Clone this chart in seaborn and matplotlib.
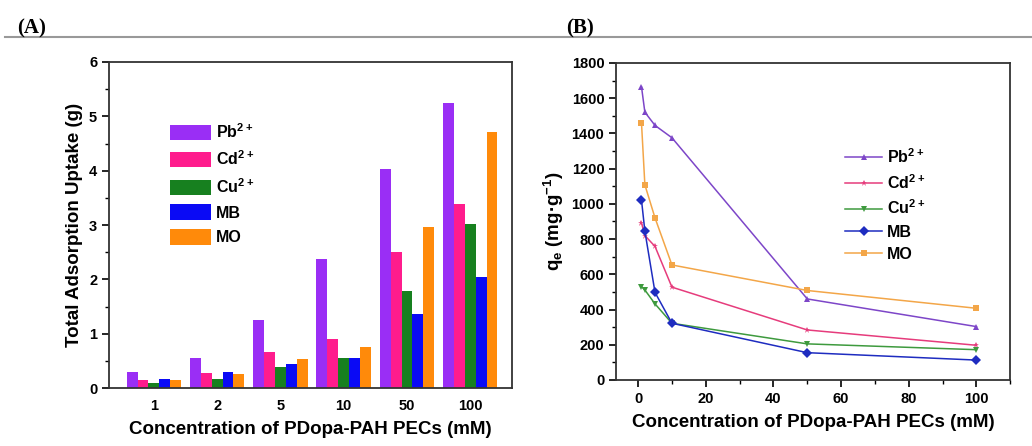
import pandas as pd
import matplotlib.pyplot as plt
import seaborn as sns
from matplotlib.ticker import MultipleLocator
from matplotlib.lines import Line2D

# panel A: total uptake (g) per PEC concentration
conc_labels = ['1', '2', '5', '10', '50', '100']
species = ['Pb$^{2+}$', 'Cd$^{2+}$', 'Cu$^{2+}$', 'MB', 'MO']
uptake_pb = [0.29, 0.55, 1.26, 2.38, 4.03, 5.25]
uptake_cd = [0.15, 0.28, 0.66, 0.90, 2.50, 3.39]
uptake_cu = [0.09, 0.17, 0.38, 0.55, 1.79, 3.02]
uptake_mb = [0.17, 0.30, 0.44, 0.55, 1.36, 2.04]
uptake_mo = [0.15, 0.26, 0.54, 0.75, 2.96, 4.72]

# panel B: qe (mg/g) vs concentration (mM)
conc_mm = [1, 2, 5, 10, 50, 100]
qe_pb = [1665, 1520, 1445, 1375, 460, 303]
qe_cd = [892, 820, 758, 527, 284, 197]
qe_cu = [530, 511, 432, 322, 205, 172]
qe_mb = [1022, 845, 497, 322, 155, 113]
qe_mo = [1460, 1108, 920, 653, 508, 407]

bar_colors = ['#9A2EF5', '#FF1C8D', '#17801F', '#0A0AF5', '#FF8A0A']
line_colors = ['#7D46C8', '#E63C7C', '#3E9A3E', '#1E2CC0', '#F3A648']
markers = ['^', '*', 'v', 'D', 's']

plt.rcParams['font.family'] = ['Liberation Sans', 'DejaVu Sans']
plt.rcParams['font.weight'] = 'bold'
plt.rcParams['mathtext.fontset'] = 'custom'
plt.rcParams['mathtext.rm'] = 'Liberation Sans:bold'
plt.rcParams['mathtext.bf'] = 'Liberation Sans:bold'
plt.rcParams['mathtext.default'] = 'rm'

bars = pd.DataFrame({
    'conc': conc_labels * 5,
    'species': [s for s in species for _ in conc_labels],
    'uptake': uptake_pb + uptake_cd + uptake_cu + uptake_mb + uptake_mo,
})
lines = pd.DataFrame({
    'conc': conc_mm * 5,
    'species': [s for s in species for _ in conc_mm],
    'qe': qe_pb + qe_cd + qe_cu + qe_mb + qe_mo,
})

fig = plt.figure(figsize=(10.32, 4.46), dpi=100)
ax1 = fig.add_axes([0.1056, 0.130, 0.3905, 0.731])
ax2 = fig.add_axes([0.597, 0.148, 0.382, 0.711])

sns.barplot(data=bars, x='conc', y='uptake', hue='species', palette=bar_colors,
            width=0.86, saturation=1, ax=ax1)
ax1.set_xlim(-0.71, 5.66)
ax1.set_ylim(0, 6)
ax1.yaxis.set_major_locator(MultipleLocator(1))
ax1.yaxis.set_minor_locator(MultipleLocator(0.5))
ax1.set_xlabel('Concentration of PDopa-PAH PECs (mM)', fontsize=13.5, fontweight='bold', labelpad=6)
ax1.set_ylabel('Total Adsorption Uptake (g)', fontsize=13.5, fontweight='bold', labelpad=4)
ax1.tick_params(axis='x', length=0, pad=8, labelsize=10.5)
ax1.tick_params(axis='y', which='major', length=5, width=1.2, labelsize=10.5)
ax1.tick_params(axis='y', which='minor', length=3, width=1)
ax1.legend(loc='upper left', bbox_to_anchor=(0.115, 0.86), frameon=False,
           fontsize=11.5, handlelength=2.6, handleheight=1.1, labelspacing=0.55,
           handletextpad=0.3)

sns.lineplot(data=lines, x='conc', y='qe', hue='species', style='species',
             palette=line_colors, markers=markers, dashes=False, markersize=5,
             markeredgewidth=0, linewidth=1.1, ax=ax2)
ax2.set_xlim(-6.5, 110)
ax2.set_ylim(0, 1800)
ax2.xaxis.set_major_locator(MultipleLocator(20))
ax2.xaxis.set_minor_locator(MultipleLocator(10))
ax2.yaxis.set_major_locator(MultipleLocator(200))
ax2.yaxis.set_minor_locator(MultipleLocator(100))
ax2.set_xlabel('Concentration of PDopa-PAH PECs (mM)', fontsize=13.5, fontweight='bold', labelpad=6)
ax2.set_ylabel('q$_e$ (mg·g$^{-1}$)', fontsize=13.5, fontweight='bold', labelpad=4)
ax2.tick_params(which='major', length=5, width=1.2, labelsize=10.5)
ax2.tick_params(which='minor', length=3, width=1)
ax2.legend(loc='upper left', bbox_to_anchor=(0.545, 0.78), frameon=False,
           fontsize=11.5, handlelength=2.3, labelspacing=0.45, handletextpad=0.3)

for ax in (ax1, ax2):
    for sp in ax.spines.values():
        sp.set_linewidth(1.3)
        sp.set_color('#333333')

fig.add_artist(Line2D([0.005, 1.0], [0.917, 0.917], color='#999999', lw=1.5))
fig.text(0.017, 0.925, '(A)', family=['Liberation Serif', 'DejaVu Serif'],
         fontsize=15, fontweight='bold')
fig.text(0.549, 0.925, '(B)', family=['Liberation Serif', 'DejaVu Serif'],
         fontsize=15, fontweight='bold')

fig.savefig('out.png', dpi=100)
